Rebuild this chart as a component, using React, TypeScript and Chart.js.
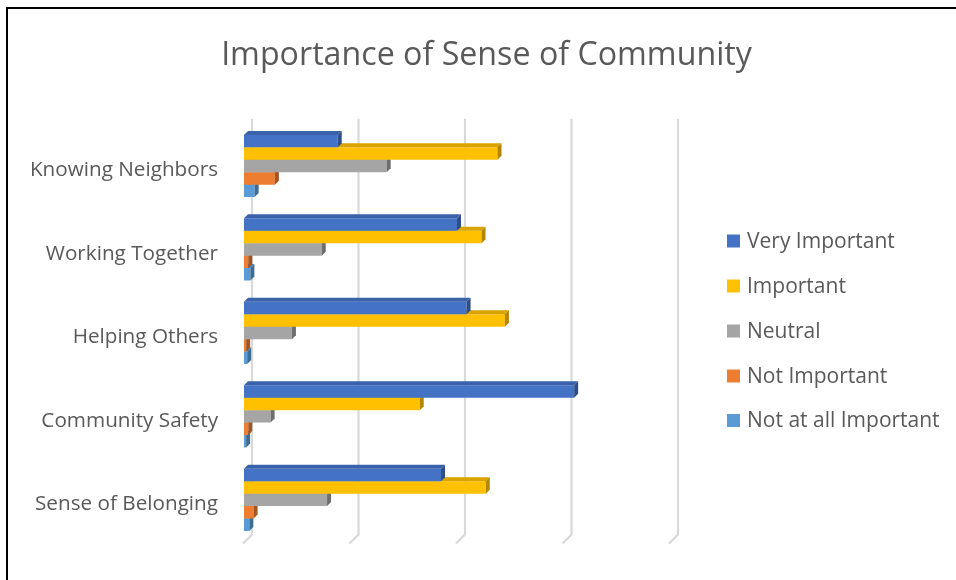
import React, { useEffect, useRef } from "react";
import { Chart, registerables } from "chart.js";

Chart.register(...registerables);

const TITLE = "Importance of Sense of Community";
const CATEGORIES = [
  "Knowing Neighbors",
  "Working Together",
  "Helping Others",
  "Community Safety",
  "Sense of Belonging",
];
const SERIES_NAMES = [
  "Very Important",
  "Important",
  "Neutral",
  "Not Important",
  "Not at all Important",
];
const VERY_IMPORTANT = [8.8, 20.0, 20.9, 31.0, 18.5];
const IMPORTANT = [23.8, 22.3, 24.5, 16.5, 22.7];
const NEUTRAL = [13.4, 7.3, 4.5, 2.5, 7.8];
const NOT_IMPORTANT = [2.9, 0.4, 0.2, 0.4, 0.9];
const NOT_AT_ALL = [1.0, 0.6, 0.3, 0.2, 0.5];
const X_TICKS = [0, 10, 20, 30, 40];

const FRONT = ["#4472C4", "#FFC000", "#A5A5A5", "#ED7D31", "#5B9BD5"];
const TOP = ["#3A62AA", "#D9A300", "#8C8C8C", "#C9692A", "#4D84B5"];
const SIDE = ["#2D4E88", "#B38600", "#6E6E6E", "#A35522", "#3E6B93"];

const FONT = "'Open Sans', 'Noto Sans', sans-serif";
const TEXT = "#595959";
const D = 4;

const bar3d = {
  id: "bar3d",
  beforeDatasetsDraw(chart: any) {
    const ctx = chart.ctx;
    const xs = chart.scales.x;
    const area = chart.chartArea;
    ctx.save();
    ctx.strokeStyle = "#D9D9D9";
    ctx.lineWidth = 2.2;
    const topY = area.top - 5.5;
    const backBottom = area.bottom - 7;
    const frontBottom = area.bottom + 2;
    X_TICKS.forEach((v) => {
      const px = xs.getPixelForValue(v);
      ctx.beginPath();
      ctx.moveTo(px + 8, topY);
      ctx.lineTo(px + 8, backBottom);
      ctx.lineTo(px - 1, frontBottom);
      ctx.stroke();
    });
    ctx.restore();
  },
  afterDatasetDraw(chart: any, args: any) {
    const ctx = chart.ctx;
    const i = args.index;
    ctx.save();
    args.meta.data.forEach((el: any) => {
      const p = el.getProps(["x", "y", "base", "height"], true);
      const x0 = p.base;
      const x1 = p.x;
      const y0 = p.y - p.height / 2;
      const y1 = p.y + p.height / 2;
      ctx.fillStyle = TOP[i];
      ctx.beginPath();
      ctx.moveTo(x0, y0);
      ctx.lineTo(x1, y0);
      ctx.lineTo(x1 + D, y0 - D);
      ctx.lineTo(x0 + D, y0 - D);
      ctx.closePath();
      ctx.fill();
      ctx.fillStyle = SIDE[i];
      ctx.beginPath();
      ctx.moveTo(x1, y0);
      ctx.lineTo(x1 + D, y0 - D);
      ctx.lineTo(x1 + D, y1 - D);
      ctx.lineTo(x1, y1);
      ctx.closePath();
      ctx.fill();
    });
    ctx.restore();
  },
  afterDraw(chart: any) {
    const ctx = chart.ctx;
    ctx.save();
    ctx.fillStyle = TEXT;
    ctx.font = `32.2px ${FONT}`;
    ctx.textAlign = "center";
    ctx.textBaseline = "middle";
    ctx.fillText(TITLE, 478.5, 47);
    ctx.font = `21px ${FONT}`;
    ctx.textAlign = "left";
    const centers = [232, 277, 322, 367, 411.5];
    chart.data.datasets.forEach((ds: any, i: number) => {
      const cy = centers[i];
      ctx.fillStyle = ds.backgroundColor;
      ctx.fillRect(719, cy - 6.5, 13, 13);
      ctx.fillStyle = TEXT;
      ctx.fillText(ds.label, 739, cy + 1);
    });
    ctx.restore();
  },
};

export default function App() {
  const ref = useRef<HTMLCanvasElement>(null);
  useEffect(() => {
    if (!ref.current) return;
    const values = [VERY_IMPORTANT, IMPORTANT, NEUTRAL, NOT_IMPORTANT, NOT_AT_ALL];
    const chart = new Chart(ref.current, {
      type: "bar",
      data: {
        labels: CATEGORIES,
        datasets: SERIES_NAMES.map((name, i) => ({
          label: name,
          data: values[i],
          backgroundColor: FRONT[i],
          borderWidth: 0,
          categoryPercentage: 0.745,
          barPercentage: 1,
        })),
      },
      options: {
        indexAxis: "y",
        animation: false,
        responsive: false,
        layout: { padding: { top: 115.25, right: 286, bottom: 33.25, left: 0 } },
        plugins: {
          legend: { display: false },
          title: { display: false },
          tooltip: { enabled: false },
        },
        scales: {
          x: {
            display: false,
            min: 0,
            max: 40,
          },
          y: {
            grid: { display: false, drawTicks: false },
            border: { display: false },
            afterFit: (s: any) => {
              s.width = 236;
            },
            ticks: {
              color: TEXT,
              font: { family: FONT, size: 20.7 },
              padding: 26,
              labelOffset: 4.5,
            },
          },
        },
      },
      plugins: [bar3d],
    });
    return () => chart.destroy();
  }, []);
  return (
    <div
      style={{
        position: "absolute",
        left: 6,
        top: 7,
        width: 948,
        height: 571,
        borderTop: "2px solid #000",
        borderLeft: "2px solid #000",
        background: "#fff",
      }}
    >
      <canvas ref={ref} width={948} height={571} style={{ display: "block" }} />
    </div>
  );
}
